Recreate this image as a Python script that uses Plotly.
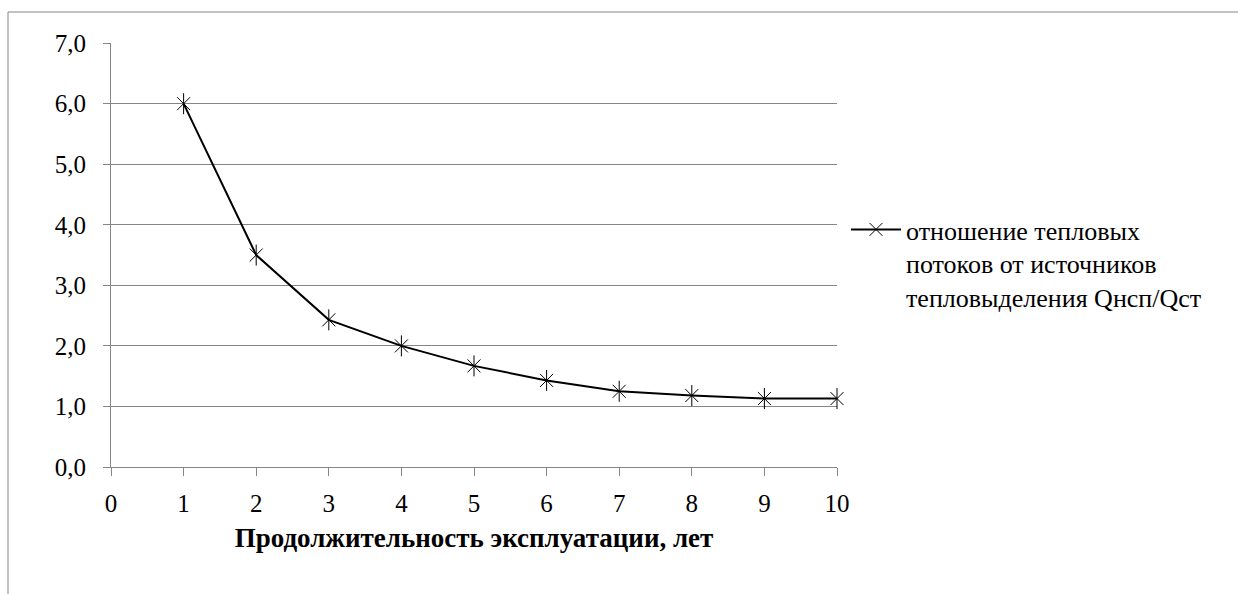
import plotly.graph_objects as go

years = [1, 2, 3, 4, 5, 6, 7, 8, 9, 10]
ratio = [6.0, 3.5, 2.43, 2.0, 1.67, 1.43, 1.25, 1.18, 1.13, 1.13]
series_name = "отношение тепловых<br>потоков от источников<br>тепловыделения Qнсп/Qст"
x_title = "Продолжительность эксплуатации, лет"
x_ticks = [0, 1, 2, 3, 4, 5, 6, 7, 8, 9, 10]
y_ticks = [0, 1, 2, 3, 4, 5, 6, 7]

FONT = "Liberation Serif"
GRID = "#868686"
FS = 25

fig = go.Figure()
fig.add_trace(go.Scatter(
    x=years, y=ratio, mode="lines+markers", name=series_name,
    line=dict(color="black", width=2),
    marker=dict(symbol="x-thin-open", size=13, color="black",
                line=dict(color="black", width=1)),
    cliponaxis=False,
))
fig.add_trace(go.Scatter(
    x=years, y=ratio, mode="markers", showlegend=False,
    marker=dict(symbol="line-ns-open", size=15, color="black",
                line=dict(color="black", width=1)),
    cliponaxis=False, hoverinfo="skip",
))

L, R, T, B = 111, 401, 43, 127
W, H = 1238, 594
pw, ph = W - L - R, H - T - B

def px_x(p):
    return (p - L) / pw

def px_y(p):
    return (H - B - p) / ph

fig.add_shape(type="rect", xref="paper", yref="paper",
              x0=px_x(8), x1=px_x(W + 20), y0=px_y(H + 20), y1=px_y(12),
              line=dict(color=GRID, width=1), layer="below")

fig.update_layout(
    width=W, height=H,
    margin=dict(l=L, r=R, t=T, b=B),
    paper_bgcolor="white", plot_bgcolor="white",
    font=dict(family=FONT, size=FS, color="black"),
    separators=", ",
    showlegend=True,
    legend=dict(x=px_x(846), y=px_y(206), xanchor="left", yanchor="top",
                font=dict(family=FONT, size=26, color="black"),
                valign="top",
                bgcolor="rgba(0,0,0,0)", itemwidth=50, tracegroupgap=0),
    xaxis=dict(range=[0, 10], tickvals=x_ticks, ticks="outside", ticklen=8,
               tickcolor=GRID, showgrid=False, showline=True, linecolor=GRID,
               linewidth=1, zeroline=False, ticklabelstandoff=6,
               tickfont=dict(family=FONT, size=FS),
               title=dict(text="<b>" + x_title + "</b>", standoff=12,
                          font=dict(family=FONT, size=27))),
    yaxis=dict(range=[0, 7.002], tickvals=y_ticks, tickformat=".1f", ticks="outside",
               ticklen=7, tickcolor=GRID, showgrid=True, gridcolor=GRID,
               gridwidth=1, showline=True, linecolor=GRID, linewidth=1,
               zeroline=False, ticklabelstandoff=12,
               tickfont=dict(family=FONT, size=FS)),
)

fig.write_html("out.html")
